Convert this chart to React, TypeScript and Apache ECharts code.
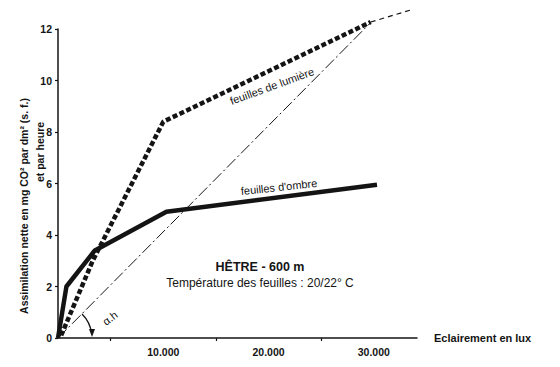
import React, { useEffect, useRef } from "react";
import * as echarts from "echarts";

// Data
const lightLeaves: [number, number][] = [
  [300, 0.1],
  [3300, 3.0],
  [10000, 8.4],
  [29700, 12.27],
];
const lightExtension: [number, number][] = [
  [29700, 12.27],
  [33600, 12.75],
];
const shadeLeaves: [number, number][] = [
  [0, 0],
  [800, 2.0],
  [3500, 3.4],
  [10300, 4.9],
  [30300, 5.95],
];
const slopeLine: [number, number][] = [
  [0, 0],
  [29700, 12.25],
];
const xLabelValues = [10000, 20000, 30000];
const xLabelTexts = ["10.000", "20.000", "30.000"];
const xTickValues = [5000, 15000, 25000];
const yTicks = [0, 2, 4, 6, 8, 10, 12];

const INK = "#141414";
const FONT = "'Liberation Sans', Arial, sans-serif";

export default function App() {
  const ref = useRef<HTMLDivElement>(null);
  useEffect(() => {
    if (!ref.current) return;
    const chart = echarts.init(ref.current, undefined, { renderer: "svg" });
    chart.setOption({
      animation: false,
      backgroundColor: "#ffffff",
      grid: { left: 58, right: 143, top: 29, bottom: 29 },
      xAxis: {
        type: "value",
        min: 0,
        max: 34100,
        splitLine: { show: false },
        axisLine: { lineStyle: { color: INK, width: 1.5 } },
        axisTick: {
          show: true,
          length: 3,
          customValues: xTickValues,
          lineStyle: { color: INK, width: 1.2 },
        },
        axisLabel: {
          customValues: xLabelValues,
          formatter: (v: number) => xLabelTexts[xLabelValues.indexOf(v)] ?? "",
          color: INK,
          fontFamily: FONT,
          fontWeight: "bold",
          fontSize: 10.5,
          margin: 8,
        },
        name: "Eclairement en lux",
        nameLocation: "end",
        nameGap: 17,
        nameTextStyle: {
          color: INK,
          fontFamily: FONT,
          fontWeight: "bold",
          fontSize: 11,
          verticalAlign: "middle",
          padding: [6, 0, 0, 0],
        },
      },
      yAxis: {
        type: "value",
        min: 0,
        max: 12,
        interval: 2,
        splitLine: { show: false },
        axisLine: { show: true, lineStyle: { color: INK, width: 1.5 } },
        axisTick: { show: true, length: 3, lineStyle: { color: INK, width: 1.2 } },
        axisLabel: {
          color: INK,
          fontFamily: FONT,
          fontWeight: "bold",
          fontSize: 10.5,
          margin: 6,
          formatter: (v: number) => (yTicks.includes(v) ? String(v) : ""),
        },
      },
      series: [
        {
          type: "line",
          data: slopeLine,
          symbol: "none",
          clip: false,
          lineStyle: { color: INK, width: 1, type: [12, 3, 2, 3] },
        },
        {
          type: "line",
          data: shadeLeaves,
          symbol: "none",
          clip: false,
          lineStyle: { color: INK, width: 4.5, join: "round" },
        },
        {
          type: "line",
          data: lightLeaves,
          symbol: "none",
          clip: false,
          lineStyle: { color: INK, width: 4.5, type: [5, 2.5] },
        },
        {
          type: "line",
          data: lightExtension,
          symbol: "none",
          clip: false,
          lineStyle: { color: INK, width: 1.2, type: [5, 4] },
        },
      ],
      graphic: [
        {
          type: "text",
          x: 24,
          y: 206,
          rotation: Math.PI / 2,
          style: {
            text: "Assimilation nette en mg CO² par dm² (s. f.)",
            fill: INK,
            font: `bold 10.5px ${FONT}`,
            align: "center",
            verticalAlign: "middle",
          },
        },
        {
          type: "text",
          x: 40,
          y: 152,
          rotation: Math.PI / 2,
          style: {
            text: "et par heure",
            fill: INK,
            font: `bold 10.5px ${FONT}`,
            align: "center",
            verticalAlign: "middle",
          },
        },
        {
          type: "text",
          x: 272,
          y: 86,
          rotation: (20 * Math.PI) / 180,
          style: {
            text: "feuilles de lumière",
            fill: INK,
            font: `11px ${FONT}`,
            align: "center",
            verticalAlign: "middle",
          },
        },
        {
          type: "text",
          x: 279,
          y: 187,
          rotation: (6 * Math.PI) / 180,
          style: {
            text: "feuilles d'ombre",
            fill: INK,
            font: `11px ${FONT}`,
            align: "center",
            verticalAlign: "middle",
          },
        },
        {
          type: "text",
          x: 260,
          y: 267,
          style: {
            text: "HÊTRE - 600 m",
            fill: INK,
            font: `bold 12.5px ${FONT}`,
            align: "center",
            verticalAlign: "middle",
          },
        },
        {
          type: "text",
          x: 260,
          y: 283,
          style: {
            text: "Température des feuilles : 20/22° C",
            fill: INK,
            font: `12px ${FONT}`,
            align: "center",
            verticalAlign: "middle",
          },
        },
        {
          type: "arc",
          shape: { cx: 58, cy: 338, r: 34, startAngle: -Math.PI / 4, endAngle: -0.12 },
          style: { stroke: INK, lineWidth: 1.3, fill: "none" },
        },
        {
          type: "polygon",
          shape: { points: [[89, 329], [95, 329], [92, 337]] },
          style: { fill: INK },
        },
        {
          type: "text",
          x: 110,
          y: 318,
          rotation: (38 * Math.PI) / 180,
          style: {
            text: "α.h",
            fill: INK,
            font: `11px ${FONT}`,
            align: "center",
            verticalAlign: "middle",
          },
        },
      ],
    });
    return () => chart.dispose();
  }, []);
  return (
    <div
      ref={ref}
      style={{ position: "fixed", left: 0, top: 0, width: 560, height: 367 }}
    />
  );
}
